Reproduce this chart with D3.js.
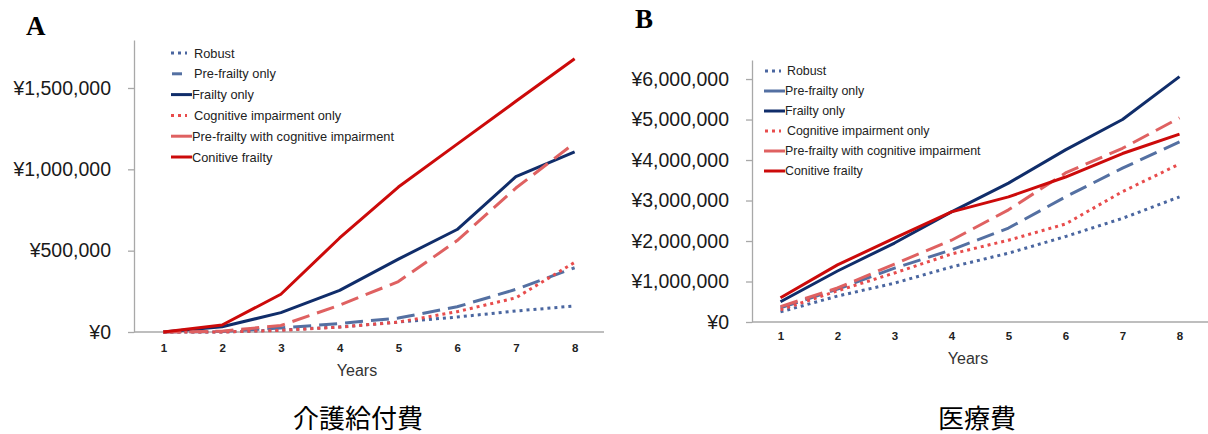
<!DOCTYPE html>
<html>
<head>
<meta charset="utf-8">
<script src="https://cdn.jsdelivr.net/npm/d3@7"></script>
<style>
  html, body { margin: 0; padding: 0; background: #fff; }
  svg { display: block; }
</style>
</head>
<body>
<svg id="chart" width="1208" height="434"></svg>
<script>
// ---------- DATA ----------
const years = [1, 2, 3, 4, 5, 6, 7, 8];
const seriesNames = ["Robust", "Pre-frailty only", "Frailty only", "Cognitive impairment only", "Pre-frailty with cognitive impairment", "Conitive frailty"];

// Panel A: 介護給付費 (long-term care costs, yen)
const careRobust     = [0, 0, 12000, 31000, 61000, 92000, 129000, 160000];
const carePreFrailty = [0, 3000, 25000, 52000, 86000, 155000, 262000, 395000];
const careFrailty    = [0, 32000, 119000, 256000, 448000, 630000, 955000, 1108000];
const careCognitive  = [0, 0, 10000, 30000, 61000, 125000, 210000, 428000];
const carePreFrCog   = [0, 5000, 40000, 165000, 310000, 562000, 885000, 1162000];
const careCogFrailty = [0, 43000, 232000, 578000, 891000, 1155000, 1418000, 1680000];
const careTicks = [0, 500000, 1000000, 1500000];

// Panel B: 医療費 (medical costs, yen)
const medRobust     = [250000, 640000, 960000, 1360000, 1700000, 2110000, 2560000, 3090000];
const medPreFrailty = [350000, 810000, 1330000, 1780000, 2320000, 3090000, 3800000, 4450000];
const medFrailty    = [500000, 1260000, 1950000, 2720000, 3430000, 4250000, 5000000, 6060000];
const medCognitive  = [300000, 770000, 1210000, 1680000, 2020000, 2420000, 3220000, 3900000];
const medPreFrCog   = [380000, 840000, 1430000, 2020000, 2770000, 3680000, 4290000, 5040000];
const medCogFrailty = [600000, 1410000, 2070000, 2720000, 3090000, 3580000, 4160000, 4640000];
const medTicks = [0, 1000000, 2000000, 3000000, 4000000, 5000000, 6000000];

const panelLetters = ["A", "B"];
const panelTitles = ["介護給付費", "医療費"];
const xTitle = "Years";

// ---------- STYLES ----------
const colors = ["#4a66a0", "#5470a2", "#102d6a", "#e84c4c", "#df6161", "#cc0a0a"];
const dashes = ["3,4", "18,8", null, "3,4", "18,8", null];

const svg = d3.select("#chart");
const fmt = v => "¥" + d3.format(",")(v);

function drawPanel(cfg) {
  const g = svg.append("g");
  const x = d3.scalePoint().domain(years).range([cfg.x0, cfg.x1]).padding(0.5);
  const y = d3.scaleLinear().domain([0, cfg.ymax]).range([cfg.yb, cfg.yt]);

  // Y axis
  const ya = g.append("g").attr("transform", `translate(${cfg.x0},0)`)
    .call(d3.axisLeft(y).tickValues(cfg.ticks).tickFormat(fmt).tickSize(6).tickSizeOuter(0));
  ya.select(".domain").attr("stroke", "#a8a8a8").attr("stroke-width", 1.3);
  ya.selectAll(".tick line").attr("stroke", "#a8a8a8").attr("stroke-width", 1.3);
  ya.selectAll(".tick text").attr("font-family", "Liberation Sans, Arial, sans-serif")
    .attr("font-size", 19.5).attr("fill", "#1a1a1a").attr("dx", -14);

  // X axis
  const xa = g.append("g").attr("transform", `translate(0,${cfg.yb})`)
    .call(d3.axisBottom(x).tickSize(0).tickSizeOuter(0));
  xa.select(".domain").attr("stroke", "#a8a8a8").attr("stroke-width", 1.3)
    .attr("d", `M${cfg.x0},0H${cfg.x1}`);
  xa.selectAll(".tick text").attr("font-family", "Liberation Sans, Arial, sans-serif")
    .attr("font-size", 11.5).attr("font-weight", "bold").attr("fill", "#222").attr("dy", cfg.xdy);

  g.append("text").attr("x", (cfg.x0 + cfg.x1) / 2 + cfg.xtOff).attr("y", cfg.yb + cfg.xtDy)
    .attr("text-anchor", "middle").attr("font-family", "Liberation Sans, Arial, sans-serif")
    .attr("font-size", 16).attr("fill", "#333").text(xTitle);

  // Lines
  const line = d3.line().x((d, i) => x(years[i])).y(d => y(d));
  cfg.series.forEach((s, i) => {
    g.append("path").datum(s).attr("d", line).attr("fill", "none")
      .attr("stroke", colors[i]).attr("stroke-width", 3)
      .attr("stroke-dasharray", dashes[i]).attr("stroke-linejoin", "round");
  });

  // Legend
  const lg = g.append("g");
  seriesNames.forEach((name, i) => {
    const yy = cfg.lgY + i * cfg.lgStep;
    const ls = cfg.lgDash[i];
    lg.append("line").attr("x1", ls.x1).attr("x2", ls.x2).attr("y1", yy).attr("y2", yy)
      .attr("stroke", colors[i]).attr("stroke-width", 3).attr("stroke-dasharray", ls.d);
    lg.append("text").attr("x", cfg.lgTx + (ls.d === "3,4" || ls.short ? 2 : 0)).attr("y", yy)
      .attr("dy", "0.36em").attr("font-family", "Liberation Sans, Arial, sans-serif")
      .attr("font-size", cfg.lgFs).attr("fill", "#222").text(name);
  });

  // Panel letter
  g.append("text").attr("x", cfg.letterX).attr("y", cfg.letterY)
    .attr("font-family", "Liberation Serif, DejaVu Serif, serif").attr("font-weight", "bold")
    .attr("font-size", 27).attr("fill", "#000").text(cfg.letter);

  // Panel title
  g.append("text").attr("x", cfg.titleX).attr("y", 419).attr("dy", "0.35em").attr("text-anchor", "middle")
    .attr("font-family", "Noto Sans CJK JP, sans-serif").attr("font-size", 26)
    .attr("fill", "#000").text(cfg.title);
}

drawPanel({
  x0: 134, x1: 604, yb: 332, yt: 40, ymax: 1795000, ticks: careTicks,
  series: [careRobust, carePreFrailty, careFrailty, careCognitive, carePreFrCog, careCogFrailty],
  xdy: 17, xtOff: -12, xtDy: 44,
  lgY: 53, lgStep: 20.8, lgTx: 192, lgFs: 12.8,
  lgDash: [
    {x1: 171, x2: 187, d: "3,4"},
    {x1: 172, x2: 182, d: null, short: true},
    {x1: 171, x2: 192, d: null},
    {x1: 171, x2: 187, d: "3,4"},
    {x1: 171, x2: 192, d: null},
    {x1: 171, x2: 192, d: null}
  ],
  letter: panelLetters[0], letterX: 26, letterY: 35,
  title: panelTitles[0], titleX: 358
});

drawPanel({
  x0: 752, x1: 1208, yb: 322, yt: 60, ymax: 6470000, ticks: medTicks,
  series: [medRobust, medPreFrailty, medFrailty, medCognitive, medPreFrCog, medCogFrailty],
  xdy: 15, xtOff: -12, xtDy: 42,
  lgY: 71, lgStep: 20, lgTx: 785, lgFs: 12.4,
  lgDash: [
    {x1: 765, x2: 781, d: "3,4"},
    {x1: 764, x2: 785, d: null},
    {x1: 764, x2: 785, d: null},
    {x1: 765, x2: 781, d: "3,4"},
    {x1: 764, x2: 785, d: null},
    {x1: 764, x2: 785, d: null}
  ],
  letter: panelLetters[1], letterX: 635, letterY: 28,
  title: panelTitles[1], titleX: 977
});
</script>
</body>
</html>
